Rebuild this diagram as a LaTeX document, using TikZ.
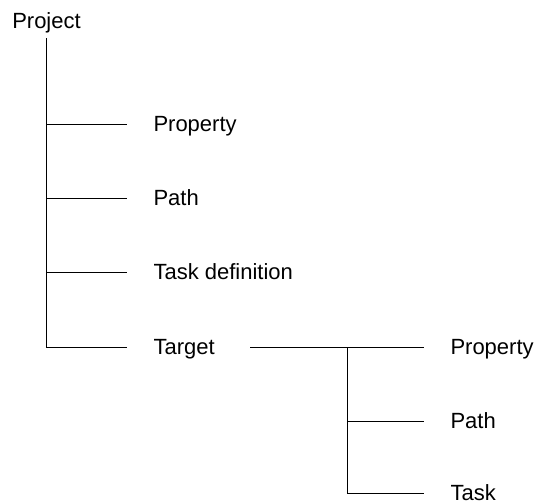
\documentclass[tikz,border=0pt]{standalone}
\usepackage{fontspec}
\setmainfont{Liberation Sans}
\usetikzlibrary{positioning}

\begin{document}
\begin{tikzpicture}[x=1pt,y=-1pt,line width=1pt,
 every node/.style={font=\fontsize{22}{26}\selectfont},
 item/.style={anchor=west,inner xsep=0pt,text height=20pt,text depth=4.5pt},
 branch/.style={shorten >=26pt}]
\useasboundingbox (0,0) rectangle (536,503);
\node[anchor=base,inner sep=4pt] (proj) at (46.5,29) {Project};
\foreach \n/\t/\y in {prop/Property/124,path/Path/198,tdef/Task definition/272,tgt/Target/347}{
 \node[item] (\n) at (153,\y) {\t};
 \draw[branch] (proj.south) |- (\n.west);}
\foreach \n/\t/\y in {sprop/Property/347,spath/Path/421,stask/Task/493}{\node[item] (\n) at (450,\y) {\t};}
\coordinate (fork) at (347,347);
\draw[branch,shorten <=35pt] (tgt.east) -- (sprop.west);
\draw[branch] (fork) |- (spath.west);
\draw[branch] (fork) |- (stask.west);
\end{tikzpicture}
\end{document}
